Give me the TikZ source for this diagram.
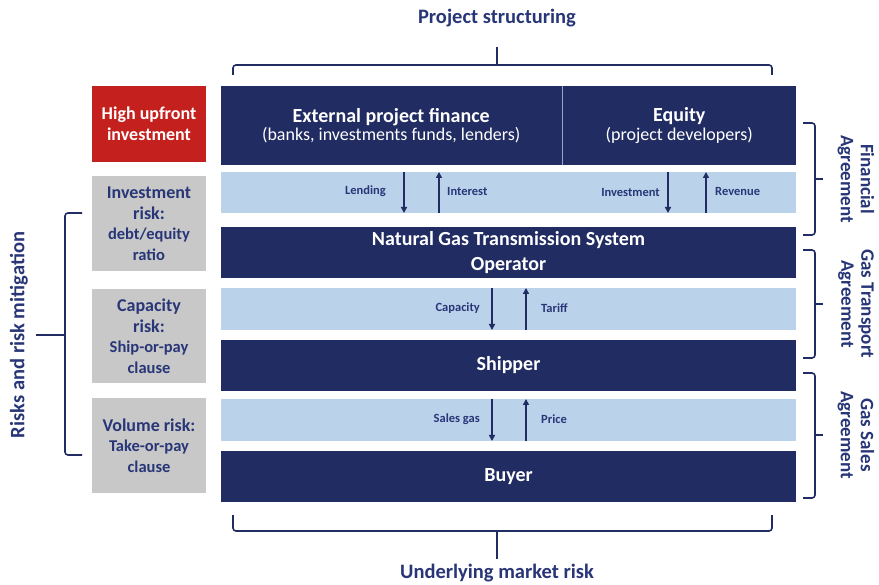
\documentclass[tikz,border=0pt]{standalone}
\usepackage{fontspec}
\setmainfont{Carlito}
\usetikzlibrary{arrows.meta}
\definecolor{navy}{RGB}{33,44,98}
\definecolor{lightb}{RGB}{186,210,234}
\definecolor{redb}{RGB}{196,32,30}
\definecolor{grayb}{RGB}{200,200,200}
\definecolor{txtb}{RGB}{40,54,120}
\definecolor{sepc}{RGB}{150,165,200}
\tikzset{
  darkbox/.style={fill=navy, text=white, inner sep=0pt, align=center},
  lightbox/.style={fill=lightb, inner sep=0pt},
  sidebox/.style={fill=grayb, text=txtb, inner sep=0pt, align=center, minimum width=114pt,
     font=\bfseries\fontsize{18}{20.5}\selectfont},
  lbl/.style={text=txtb, font=\bfseries\fontsize{12.5}{14}\selectfont, inner sep=0pt},
  flow/.style={navy, line width=1.8pt, -{Triangle[length=6pt,width=6pt]}},
  brace/.style={navy, line width=1.6pt, rounded corners=3pt},
  ttl/.style={text=txtb, font=\bfseries\fontsize{20.5}{24}\selectfont, inner sep=0pt, align=center},
  rttl/.style={text=txtb, font=\bfseries\fontsize{19}{20}\selectfont, inner sep=0pt, align=center, rotate=-90},
}
\begin{document}
\begin{tikzpicture}[x=1pt,y=-1pt]
\useasboundingbox (0,0) rectangle (879,585);
\fill[white] (0,0) rectangle (879,585);
% main column
\fill[sepc] (561,86) rectangle (563,165);
\node[darkbox, minimum width=340.5, minimum height=79] (ext) at (391.25,125.5)
  {{\bfseries\fontsize{20}{22}\selectfont External project finance}\\[1pt]{\fontsize{18}{20}\selectfont (banks, investments funds, lenders)}};
\node[darkbox, minimum width=233.5, minimum height=79] (eq) at (679.25,125.5)
  {{\bfseries\fontsize{20}{22}\selectfont Equity}\\[1pt]{\fontsize{18}{20}\selectfont (project developers)}};
\node[lightbox, minimum width=575, minimum height=41] (l1) at (508.5,192.5) {};
\node[darkbox, minimum width=575, minimum height=51, font=\bfseries\fontsize{20}{25}\selectfont] (ngts) at (508.5,253)
  {Natural Gas Transmission System\\Operator};
\node[lightbox, minimum width=575, minimum height=42] (l2) at (508.5,309) {};
\node[darkbox, minimum width=575, minimum height=51, font=\bfseries\fontsize{20}{22}\selectfont] (ship) at (508.5,365.5) {Shipper};
\node[lightbox, minimum width=575, minimum height=42] (l3) at (508.5,420) {};
\node[darkbox, minimum width=575, minimum height=51, font=\bfseries\fontsize{20}{22}\selectfont] (buy) at (508.5,476.5) {Buyer};
% side boxes
\node[sidebox, fill=redb, text=white, minimum height=76] (hu) at (149,124) {High upfront\\investment};
\node[sidebox, minimum height=95] (ir) at (149,223.5) {Investment\\risk:\\{\fontsize{16.5}{20.5}\selectfont debt/equity}\\{\fontsize{16.5}{20.5}\selectfont ratio}};
\node[sidebox, minimum height=94] (cr) at (149,336) {Capacity\\risk:\\{\fontsize{16.5}{20.5}\selectfont Ship-or-pay}\\{\fontsize{16.5}{20.5}\selectfont clause}};
\node[sidebox, minimum height=95] (vr) at (149,445.5) {Volume risk:\\{\fontsize{16.5}{20.5}\selectfont Take-or-pay}\\{\fontsize{16.5}{20.5}\selectfont clause}};
% arrows row 1
\coordinate (a1t) at (404,172); \coordinate (a1b) at (404,213);
\coordinate (a2t) at (439,172); \coordinate (a2b) at (439,213);
\coordinate (a3t) at (668,172); \coordinate (a3b) at (668,213);
\coordinate (a4t) at (706,172); \coordinate (a4b) at (706,213);
\draw[flow] (a1t) -- (a1b);
\draw[flow] (a2b) -- (a2t);
\draw[flow] (a3t) -- (a3b);
\draw[flow] (a4b) -- (a4t);
\node[lbl, anchor=east] (lend) at (386,191) {Lending};
\node[lbl, anchor=west] (intr) at (447,191) {Interest};
\node[lbl, anchor=east] (inv) at (660,192) {Investment};
\node[lbl, anchor=west] (rev) at (715,191) {Revenue};
% arrows row 2
\coordinate (b1t) at (492,288); \coordinate (b1b) at (492,330);
\coordinate (b2t) at (526,288); \coordinate (b2b) at (526,330);
\draw[flow] (b1t) -- (b1b);
\draw[flow] (b2b) -- (b2t);
\node[lbl, anchor=east] (cap) at (480,308) {Capacity};
\node[lbl, anchor=west] (tar) at (541,308) {Tariff};
% arrows row 3
\coordinate (c1t) at (492,399); \coordinate (c1b) at (492,441);
\coordinate (c2t) at (526,399); \coordinate (c2b) at (526,441);
\draw[flow] (c1t) -- (c1b);
\draw[flow] (c2b) -- (c2t);
\node[lbl, anchor=east] (sg) at (480,419) {Sales gas};
\node[lbl, anchor=west] (pr) at (541,419) {Price};
% top brace
\node[ttl] (ps) at (497,18) {Project structuring};
\coordinate (tL) at (233,75); \coordinate (tR) at (772,75); \coordinate (tM) at (497,47);
\draw[brace] (tL) -- (233,65) -- (772,65) -- (tR);
\draw[brace, rounded corners=0pt] (497,65) -- (tM);
% bottom brace
\node[ttl] (umr) at (497,573.5) {Underlying market risk};
\coordinate (bL) at (233,515); \coordinate (bR) at (772,515); \coordinate (bM) at (497,559);
\draw[brace] (bL) -- (233,531) -- (772,531) -- (bR);
\draw[brace, rounded corners=0pt] (497,531) -- (bM);
% left brace
\node[ttl, rotate=90] (rrm) at (19,335) {Risks and risk mitigation};
\draw[brace] (82,213) -- (65,213) -- (65,455) -- (82,455);
\draw[brace, rounded corners=0pt] (65,335) -- (36,335);
% right braces
\draw[brace] (803,123) -- (815,123) -- (815,235) -- (803,235);
\draw[brace, rounded corners=0pt] (815,179) -- (823,179);
\node[rttl] (fa) at (856,179) {Financial\\Agreement};
\draw[brace] (803,250) -- (815,250) -- (815,358) -- (803,358);
\draw[brace, rounded corners=0pt] (815,304) -- (823,304);
\node[rttl] (gt) at (856,304) {Gas Transport\\Agreement};
\draw[brace] (803,373) -- (815,373) -- (815,498) -- (803,498);
\draw[brace, rounded corners=0pt] (815,435) -- (823,435);
\node[rttl] (gs) at (856,435) {Gas Sales\\Agreement};
\end{tikzpicture}
\end{document}
